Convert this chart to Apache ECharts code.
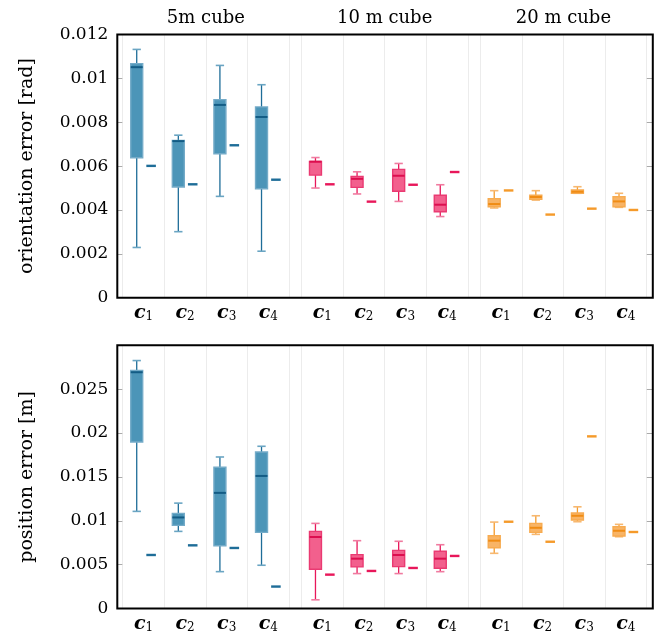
<!DOCTYPE html>
<html><head><meta charset="utf-8">
<script src="https://cdn.jsdelivr.net/npm/echarts@6/dist/echarts.min.js"></script>
<style>html,body{margin:0;padding:0;background:#fff}#c{width:657px;height:635px}</style>
</head><body><div id="c"></div>
<script>
// ---------- data ----------
const categories = ['c1', 'c2', 'c3', 'c4'];
const groupTitles = ['5m cube', '10 m cube', '20 m cube'];
const orientTitle = 'orientation error [rad]';
const posTitle = 'position error [m]';

// box values: [min, Q1, median, Q3, max]
const orient5mBox = [
  [0.00229, 0.00638, 0.01051, 0.01067, 0.01132],
  [0.00301, 0.00505, 0.00714, 0.00717, 0.00741],
  [0.00462, 0.00656, 0.00879, 0.00903, 0.01059],
  [0.00212, 0.00497, 0.00824, 0.00870, 0.00971]
];
const orient5mSingle = [0.00601, 0.00517, 0.00695, 0.00538];
const orient10mBox = [
  [0.00500, 0.00559, 0.00620, 0.00621, 0.00639],
  [0.00473, 0.00503, 0.00542, 0.00553, 0.00574],
  [0.00439, 0.00485, 0.00556, 0.00585, 0.00612],
  [0.00370, 0.00392, 0.00424, 0.00467, 0.00515]
];
const orient10mSingle = [0.00517, 0.00438, 0.00515, 0.00573];
const orient20mBox = [
  [0.00409, 0.00415, 0.00427, 0.00451, 0.00488],
  [0.00445, 0.00449, 0.00459, 0.00467, 0.00488],
  [0.00476, 0.00476, 0.00483, 0.00491, 0.00506],
  [0.00412, 0.00415, 0.00439, 0.00460, 0.00476]
];
const orient20mSingle = [0.00489, 0.00379, 0.00406, 0.00400];

const pos5mBox = [
  [0.01107, 0.01898, 0.02693, 0.02712, 0.02826],
  [0.00879, 0.00947, 0.01038, 0.01084, 0.01201],
  [0.00420, 0.00716, 0.01318, 0.01610, 0.01727],
  [0.00493, 0.00868, 0.01511, 0.01784, 0.01849]
];
const pos5mSingle = [0.00610, 0.00720, 0.00690, 0.00250];
const pos10mBox = [
  [0.00099, 0.00447, 0.00815, 0.00879, 0.00970],
  [0.00398, 0.00474, 0.00568, 0.00614, 0.00773],
  [0.00398, 0.00477, 0.00610, 0.00663, 0.00766],
  [0.00420, 0.00459, 0.00568, 0.00652, 0.00727]
];
const pos10mSingle = [0.00386, 0.00428, 0.00462, 0.00599];
const pos20mBox = [
  [0.00629, 0.00693, 0.00773, 0.00830, 0.00985],
  [0.00845, 0.00868, 0.00920, 0.00970, 0.01057],
  [0.00989, 0.01008, 0.01057, 0.01088, 0.01159],
  [0.00818, 0.00826, 0.00886, 0.00932, 0.00959]
];
const pos20mSingle = [0.00989, 0.00761, 0.01962, 0.00872];

const orientAxis = { min: 0, max: 0.012, interval: 0.002 };
const posAxis = { min: 0, max: 0.03, interval: 0.005 };

// ---------- styles / layout ----------
const FONT = 'DejaVu Serif';
const palettes = [
  { fill: '#4c95b8', edge: '#74abc8', whisker: '#1e6d98', cap: '#6aa5c3', median: '#135c85', dash: '#1e6d98' },
  { fill: '#f2608d', edge: '#ea3a72', whisker: '#e8175a', cap: '#f07ba0', median: '#dc0e4f', dash: '#e8175a' },
  { fill: '#f8b466', edge: '#f7ab50', whisker: '#f59a2a', cap: '#f7b870', median: '#f08c14', dash: '#f59a2a' }
];
const BOX_OFF = -0.163, BOX_W = 0.288, CAP_W = 0.2, DASH_OFF = 0.183, DASH_W = 0.23;

const frameLeft = 117.3, frameRight = 4.2;
const panelTops = [34.5, 345.3];
const panelH = 263.2;
const subLeft0 = 122.7, subStep = 178.75, subW = 166.4;

function renderBox(pal) {
  return function (params, api) {
    const xi = api.value(0);
    const band = api.size([1, 0])[0];
    const cx = api.coord([xi, 0])[0] + BOX_OFF * band;
    const w = BOX_W * band, cw = CAP_W * band;
    const y = [1, 2, 3, 4, 5].map(k => api.coord([xi, api.value(k)])[1]);
    return {
      type: 'group',
      children: [
        { type: 'line', shape: { x1: cx, y1: y[4], x2: cx, y2: y[3] }, style: { stroke: pal.whisker, lineWidth: 1.3 } },
        { type: 'line', shape: { x1: cx, y1: y[1], x2: cx, y2: y[0] }, style: { stroke: pal.whisker, lineWidth: 1.3 } },
        { type: 'line', shape: { x1: cx - cw / 2, y1: y[4], x2: cx + cw / 2, y2: y[4] }, style: { stroke: pal.cap, lineWidth: 1.6 } },
        { type: 'line', shape: { x1: cx - cw / 2, y1: y[0], x2: cx + cw / 2, y2: y[0] }, style: { stroke: pal.cap, lineWidth: 1.6 } },
        { type: 'rect', shape: { x: cx - w / 2, y: y[3], width: w, height: Math.max(y[1] - y[3], 1) }, style: { fill: pal.fill, stroke: pal.edge, lineWidth: 1.4 } },
        { type: 'line', shape: { x1: cx - w / 2, y1: y[2], x2: cx + w / 2, y2: y[2] }, style: { stroke: pal.median, lineWidth: 2 } }
      ]
    };
  };
}
function renderDash(pal) {
  return function (params, api) {
    const xi = api.value(0);
    const band = api.size([1, 0])[0];
    const p = api.coord([xi, api.value(1)]);
    const cx = p[0] + DASH_OFF * band;
    const w = DASH_W * band;
    return { type: 'line', shape: { x1: cx - w / 2, y1: p[1], x2: cx + w / 2, y2: p[1] }, style: { stroke: pal.dash, lineWidth: 2.4 } };
  };
}

const panels = [
  { boxes: [orient5mBox, orient10mBox, orient20mBox], singles: [orient5mSingle, orient10mSingle, orient20mSingle], axis: orientAxis, title: orientTitle },
  { boxes: [pos5mBox, pos10mBox, pos20mBox], singles: [pos5mSingle, pos10mSingle, pos20mSingle], axis: posAxis, title: posTitle }
];

const grid = [], xAxis = [], yAxis = [], series = [], graphic = [];

panels.forEach((panel, pi) => {
  for (let g = 0; g < 3; g++) {
    const idx = grid.length;
    grid.push({ left: subLeft0 + g * subStep, width: subW, top: panelTops[pi], height: panelH });
    xAxis.push({
      type: 'category', gridIndex: idx, data: categories,
      axisLine: { show: false }, axisTick: { show: false, interval: 0 },
      splitLine: { show: true, interval: 0, lineStyle: { color: '#ececec', width: 1 } },
      axisLabel: {
        margin: 3, interval: 0,
        formatter: v => '{c|' + v.charAt(0) + '}{s|' + v.slice(1) + '}',
        rich: {
          c: { fontFamily: FONT, fontWeight: 'bold', fontStyle: 'italic', fontSize: 19, color: '#000', lineHeight: 22, verticalAlign: 'bottom' },
          s: { fontFamily: FONT, fontSize: 12, color: '#000', lineHeight: 12, verticalAlign: 'bottom' }
        }
      }
    });
    yAxis.push({ type: 'value', gridIndex: idx, min: panel.axis.min, max: panel.axis.max, show: false, splitLine: { show: false } });
    const pal = palettes[g];
    series.push({
      type: 'custom', xAxisIndex: idx, yAxisIndex: idx,
      renderItem: renderBox(pal),
      encode: { x: 0, y: [1, 2, 3, 4, 5] },
      data: panel.boxes[g].map((b, i) => [i].concat(b))
    });
    series.push({
      type: 'custom', xAxisIndex: idx, yAxisIndex: idx,
      renderItem: renderDash(pal),
      encode: { x: 0, y: 1 },
      data: panel.singles[g].map((v, i) => [i, v])
    });
    if (pi === 0) {
      graphic.push({
        type: 'text',
        x: subLeft0 + g * subStep + subW / 2, y: 18.5,
        style: { text: groupTitles[g], font: '18px "' + FONT + '"', fill: '#000', align: 'center', verticalAlign: 'middle' }
      });
    }
  }
});

// frame grids with visible y axes
panels.forEach((panel, pi) => {
  const idx = grid.length;
  grid.push({ left: frameLeft, right: frameRight, top: panelTops[pi], height: panelH, show: true, borderColor: '#000', borderWidth: 2, backgroundColor: 'transparent', z: 5 });
  xAxis.push({ type: 'value', gridIndex: idx, min: 0, max: 1, show: false });
  yAxis.push({
    type: 'value', gridIndex: idx, position: 'left',
    min: panel.axis.min, max: panel.axis.max, interval: panel.axis.interval,
    axisLine: { show: false }, splitLine: { show: false },
    axisTick: { show: true, inside: true, length: 5, lineStyle: { color: '#aaa', width: 1 } },
    axisLabel: { margin: 9, fontFamily: FONT, fontSize: 17, color: '#000', showMaxLabel: pi === 0 }
  });
  yAxis.push({
    type: 'value', gridIndex: idx, position: 'right',
    min: panel.axis.min, max: panel.axis.max, interval: panel.axis.interval,
    axisLine: { show: false }, splitLine: { show: false },
    axisTick: { show: true, inside: true, length: 6, lineStyle: { color: '#aaa', width: 1 } },
    axisLabel: { show: false }
  });
  graphic.push({
    type: 'text', x: 27, y: panelTops[pi] + panelH / 2, rotation: Math.PI / 2,
    style: { text: panel.title, font: '19px "' + FONT + '"', fill: '#000', align: 'center', verticalAlign: 'middle' }
  });
});

const chart = echarts.init(document.getElementById('c'), null, { renderer: 'canvas' });
chart.setOption({ animation: false, backgroundColor: '#fff', grid, xAxis, yAxis, series, graphic });
</script>
</body></html>
